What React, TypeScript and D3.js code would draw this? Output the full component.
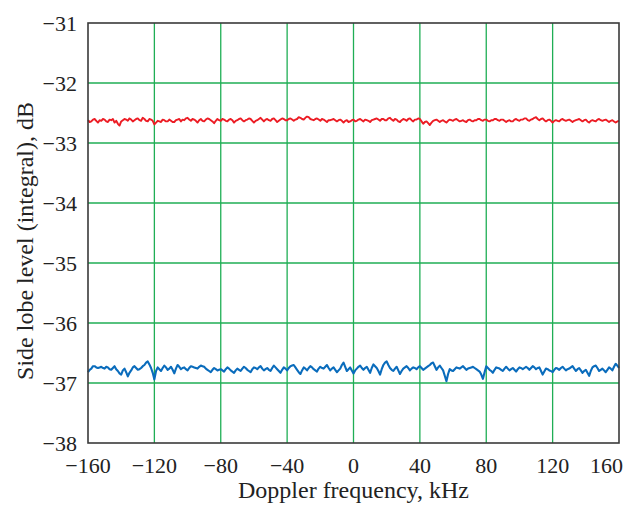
import React from "react";
import * as d3 from "d3";

const xTicks = [-160, -120, -80, -40, 0, 40, 80, 120, 160];
const yTicks = [-38, -37, -36, -35, -34, -33, -32, -31];
const xStart = -160;
const xStep = 1;

const redSeries = [
  -32.62, -32.65, -32.64, -32.61, -32.60, -32.63, -32.66, -32.62, -32.63, -32.60, -32.61, -32.64, -32.65, -32.61, -32.62, -32.60, -32.66, -32.63, -32.68, -32.71,
  -32.64, -32.62, -32.60, -32.61, -32.63, -32.59, -32.61, -32.64, -32.62, -32.60, -32.59, -32.62, -32.63, -32.58, -32.60, -32.63, -32.64, -32.60, -32.61, -32.63,
  -32.69, -32.66, -32.63, -32.64, -32.65, -32.61, -32.62, -32.64, -32.64, -32.61, -32.63, -32.65, -32.65, -32.62, -32.61, -32.60, -32.64, -32.61, -32.62, -32.59,
  -32.58, -32.61, -32.63, -32.60, -32.61, -32.63, -32.66, -32.62, -32.60, -32.63, -32.64, -32.61, -32.59, -32.60, -32.62, -32.64, -32.67, -32.63, -32.60, -32.62,
  -32.63, -32.60, -32.61, -32.63, -32.64, -32.61, -32.60, -32.62, -32.66, -32.63, -32.62, -32.60, -32.59, -32.62, -32.64, -32.62, -32.61, -32.59, -32.60, -32.63,
  -32.66, -32.63, -32.62, -32.60, -32.58, -32.61, -32.64, -32.61, -32.60, -32.62, -32.63, -32.60, -32.59, -32.62, -32.65, -32.63, -32.61, -32.59, -32.60, -32.62,
  -32.62, -32.60, -32.59, -32.61, -32.63, -32.61, -32.60, -32.57, -32.58, -32.60, -32.61, -32.58, -32.56, -32.57, -32.60, -32.61, -32.62, -32.60, -32.59, -32.61,
  -32.63, -32.60, -32.61, -32.63, -32.65, -32.62, -32.62, -32.61, -32.60, -32.62, -32.64, -32.62, -32.61, -32.63, -32.66, -32.63, -32.62, -32.65, -32.64, -32.62,
  -32.61, -32.64, -32.63, -32.61, -32.60, -32.62, -32.64, -32.61, -32.62, -32.63, -32.65, -32.62, -32.61, -32.60, -32.59, -32.61, -32.63, -32.60, -32.60, -32.62,
  -32.62, -32.59, -32.58, -32.61, -32.63, -32.60, -32.61, -32.64, -32.65, -32.62, -32.60, -32.61, -32.63, -32.60, -32.59, -32.62, -32.64, -32.61, -32.61, -32.59,
  -32.60, -32.64, -32.68, -32.65, -32.64, -32.67, -32.70, -32.66, -32.63, -32.62, -32.61, -32.63, -32.65, -32.63, -32.62, -32.64, -32.66, -32.63, -32.61, -32.62,
  -32.63, -32.61, -32.60, -32.62, -32.64, -32.63, -32.62, -32.64, -32.65, -32.62, -32.61, -32.63, -32.64, -32.62, -32.62, -32.60, -32.60, -32.62, -32.63, -32.61,
  -32.61, -32.63, -32.64, -32.62, -32.62, -32.60, -32.60, -32.62, -32.63, -32.61, -32.61, -32.63, -32.65, -32.63, -32.62, -32.64, -32.64, -32.61, -32.60, -32.62,
  -32.63, -32.61, -32.61, -32.59, -32.59, -32.62, -32.63, -32.61, -32.60, -32.58, -32.57, -32.60, -32.62, -32.60, -32.59, -32.62, -32.64, -32.62, -32.61, -32.63,
  -32.66, -32.63, -32.62, -32.63, -32.64, -32.61, -32.60, -32.62, -32.63, -32.62, -32.61, -32.63, -32.65, -32.63, -32.62, -32.61, -32.60, -32.62, -32.64, -32.62,
  -32.61, -32.64, -32.66, -32.63, -32.62, -32.63, -32.64, -32.61, -32.60, -32.62, -32.63, -32.62, -32.61, -32.63, -32.65, -32.63, -32.62, -32.64, -32.66, -32.64,
  -32.63,
];

const blueSeries = [
  -36.82, -36.78, -36.76, -36.72, -36.72, -36.74, -36.75, -36.74, -36.73, -36.75, -36.76, -36.73, -36.74, -36.77, -36.78, -36.75, -36.72, -36.77, -36.80, -36.84,
  -36.86, -36.79, -36.76, -36.82, -36.89, -36.83, -36.79, -36.74, -36.72, -36.75, -36.78, -36.77, -36.75, -36.72, -36.70, -36.66, -36.64, -36.69, -36.75, -36.83,
  -36.94, -36.80, -36.74, -36.77, -36.80, -36.75, -36.71, -36.74, -36.78, -36.76, -36.73, -36.78, -36.84, -36.76, -36.70, -36.73, -36.77, -36.75, -36.74, -36.77,
  -36.79, -36.75, -36.72, -36.73, -36.74, -36.75, -36.76, -36.73, -36.71, -36.72, -36.73, -36.76, -36.78, -36.80, -36.82, -36.78, -36.75, -36.77, -36.79, -36.78,
  -36.77, -36.79, -36.81, -36.77, -36.74, -36.76, -36.79, -36.81, -36.83, -36.79, -36.76, -36.78, -36.80, -36.76, -36.73, -36.75, -36.78, -36.80, -36.82, -36.77,
  -36.74, -36.75, -36.77, -36.74, -36.72, -36.76, -36.79, -36.77, -36.75, -36.78, -36.80, -36.75, -36.71, -36.74, -36.77, -36.80, -36.83, -36.78, -36.74, -36.76,
  -36.79, -36.75, -36.72, -36.71, -36.70, -36.74, -36.78, -36.82, -36.85, -36.79, -36.74, -36.76, -36.79, -36.75, -36.72, -36.74, -36.77, -36.79, -36.81, -36.76,
  -36.73, -36.75, -36.76, -36.73, -36.70, -36.75, -36.79, -36.76, -36.74, -36.78, -36.82, -36.79, -36.76, -36.70, -36.66, -36.73, -36.80, -36.77, -36.74, -36.79,
  -36.84, -36.79, -36.76, -36.73, -36.71, -36.75, -36.78, -36.75, -36.73, -36.78, -36.83, -36.75, -36.69, -36.72, -36.75, -36.80, -36.86, -36.77, -36.70, -36.66,
  -36.64, -36.70, -36.75, -36.78, -36.80, -36.76, -36.73, -36.79, -36.85, -36.80, -36.76, -36.74, -36.72, -36.75, -36.79, -36.76, -36.74, -36.75, -36.77, -36.74,
  -36.72, -36.75, -36.78, -36.76, -36.74, -36.72, -36.70, -36.67, -36.66, -36.72, -36.78, -36.74, -36.71, -36.75, -36.79, -36.88, -36.97, -36.85, -36.77, -36.79,
  -36.80, -36.77, -36.74, -36.75, -36.76, -36.74, -36.72, -36.75, -36.78, -36.76, -36.75, -36.74, -36.73, -36.75, -36.77, -36.79, -36.81, -36.86, -36.93, -36.82,
  -36.72, -36.75, -36.78, -36.80, -36.83, -36.78, -36.74, -36.75, -36.76, -36.78, -36.80, -36.76, -36.73, -36.76, -36.79, -36.77, -36.75, -36.78, -36.81, -36.77,
  -36.74, -36.75, -36.77, -36.75, -36.73, -36.75, -36.78, -36.75, -36.72, -36.74, -36.77, -36.75, -36.74, -36.80, -36.86, -36.81, -36.76, -36.77, -36.79, -36.80,
  -36.82, -36.78, -36.75, -36.76, -36.78, -36.75, -36.73, -36.76, -36.79, -36.77, -36.76, -36.74, -36.72, -36.76, -36.80, -36.77, -36.75, -36.79, -36.83, -36.80,
  -36.78, -36.83, -36.88, -36.80, -36.74, -36.72, -36.71, -36.75, -36.80, -36.78, -36.76, -36.79, -36.82, -36.78, -36.74, -36.76, -36.79, -36.73, -36.68, -36.71,
  -36.75,
];

const xLabel = "Doppler frequency, kHz";
const yLabel = "Side lobe level (integral), dB";

const W = 631;
const H = 506;
const left = 88;
const right = 619;
const top = 23;
const bottom = 443;

const font = "'Liberation Serif', 'Times New Roman', serif";
const gridColor = "#1fae55";
const frameColor = "#3a3a3a";

const fmt = (v: number) => (v < 0 ? "\u2212" + Math.abs(v) : String(v));

export default function App() {
  const x = d3.scaleLinear().domain([-160, 160]).range([left, right]);
  const y = d3.scaleLinear().domain([-38, -31]).range([bottom, top]);
  const line = d3
    .line<number>()
    .x((_, i) => x(xStart + i * xStep))
    .y((d) => y(d));

  return (
    <svg
      width={W}
      height={H}
      style={{ position: "absolute", left: 0, top: 0, background: "#fff" }}
    >
      <rect x={0} y={0} width={W} height={H} fill="#fff" />
      {xTicks
        .filter((t) => t !== -160 && t !== 160)
        .map((t) => (
          <line
            key={"gx" + t}
            x1={x(t)}
            x2={x(t)}
            y1={top}
            y2={bottom}
            stroke={gridColor}
            strokeWidth={1.3}
          />
        ))}
      {yTicks
        .filter((t) => t !== -38 && t !== -31)
        .map((t) => (
          <line
            key={"gy" + t}
            x1={left}
            x2={right}
            y1={y(t)}
            y2={y(t)}
            stroke={gridColor}
            strokeWidth={1.3}
          />
        ))}
      <path d={line(redSeries) || ""} fill="none" stroke="#ec1c24" strokeWidth={1.9} strokeLinejoin="round" />
      <path d={line(blueSeries) || ""} fill="none" stroke="#0a6cbc" strokeWidth={2.1} strokeLinejoin="round" />
      <rect
        x={left}
        y={top}
        width={right - left}
        height={bottom - top}
        fill="none"
        stroke={frameColor}
        strokeWidth={1.6}
      />
      {yTicks.map((t) => (
        <text
          key={"ty" + t}
          x={77}
          y={y(t)}
          dy="0.35em"
          textAnchor="end"
          fontFamily={font}
          fontSize={22}
          fill="#222"
        >
          {fmt(t)}
        </text>
      ))}
      {xTicks.map((t) => (
        <text
          key={"tx" + t}
          x={t === 160 ? 623 : x(t)}
          y={473}
          textAnchor={t === 160 ? "end" : "middle"}
          fontFamily={font}
          fontSize={22}
          fill="#222"
        >
          {fmt(t)}
        </text>
      ))}
      <text
        x={(left + right) / 2}
        y={498}
        textAnchor="middle"
        fontFamily={font}
        fontSize={24}
        fill="#222"
      >
        {xLabel}
      </text>
      <text
        transform={`translate(33, 241) rotate(-90)`}
        textAnchor="middle"
        fontFamily={font}
        fontSize={24}
        fill="#222"
      >
        {yLabel}
      </text>
    </svg>
  );
}
